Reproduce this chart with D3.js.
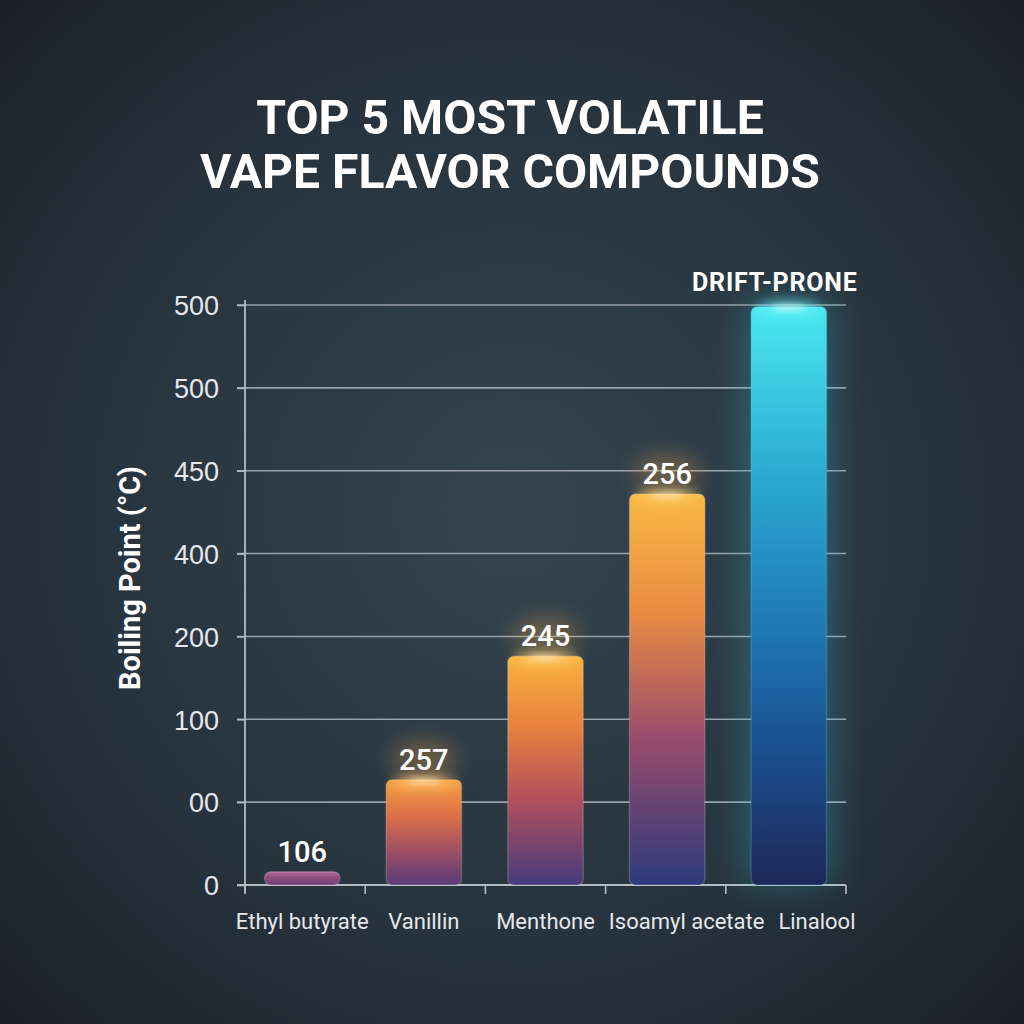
<!DOCTYPE html>
<html><head><meta charset="utf-8">
<script src="https://cdn.jsdelivr.net/npm/d3@7"></script>
<style>html,body{margin:0;padding:0;background:#1f2830;} svg{display:block}</style>
</head><body><svg id="c" width="1024" height="1024"></svg>
<script>
// ---- data ----
const categories = ["Ethyl butyrate","Vanillin","Menthone","Isoamyl acetate","Linalool"];
// bar heights expressed on the chart's (evenly spaced) tick ladder
const values = [0.16, 1.27, 2.76, 4.72, 6.98];
const valueLabels = ["106","257","245","256","DRIFT-PRONE"];
const tickIndex = [0,1,2,3,4,5,6,7];
const tickLabels = ["0","00","100","200","400","450","500","500"];
const titleLines = ["TOP 5 MOST VOLATILE","VAPE FLAVOR COMPOUNDS"];
const yTitle = "Boiling Point (°C)";
const barStops = [
  [["0","#b06a9c"],["0.4","#92507e"],["1","#6e3e78"]],
  [["0","#f4a040"],["0.35","#dc6e48"],["0.7","#9a4c66"],["1","#5a3c78"]],
  [["0","#f8b23e"],["0.3","#ea823e"],["0.62","#b4505c"],["1","#463a7c"]],
  [["0","#f8b844"],["0.3","#ea8c42"],["0.62","#9a4c6c"],["1","#2c3a7c"]],
  [["0","#4ae8f0"],["0.3","#2aa8d2"],["0.55","#1f7ab2"],["0.75","#1a5294"],["1","#1e2858"]]
];
const glowColors = ["#d090c0","#ffc070","#ffd070","#ffd070","#70f4ff"];

// ---- chart ----
const W = 1024, H = 1024;
const svg = d3.select("#c");
const defs = svg.append("defs");

const bg = defs.append("radialGradient").attr("id","bg")
  .attr("cx","0.5").attr("cy","0.5").attr("r","0.72");
bg.append("stop").attr("offset","0").attr("stop-color","#34454f");
bg.append("stop").attr("offset","0.55").attr("stop-color","#28343e");
bg.append("stop").attr("offset","1").attr("stop-color","#1a2028");
svg.append("rect").attr("width",W).attr("height",H).attr("fill","url(#bg)");

const blur = (id, sd) => {
  const f = defs.append("filter").attr("id",id)
    .attr("x","-100%").attr("y","-100%").attr("width","300%").attr("height","300%");
  f.append("feGaussianBlur").attr("stdDeviation",sd);
};
blur("b6",6); blur("b10",10); blur("b18",18); blur("b3",3);

barStops.forEach((stops,i)=>{
  const g = defs.append("linearGradient").attr("id","bar"+i)
    .attr("x1",0).attr("y1",0).attr("x2",0).attr("y2",1);
  stops.forEach(s=>g.append("stop").attr("offset",s[0]).attr("stop-color",s[1]));
});

const x = d3.scaleBand().domain(categories).range([245,846]).paddingInner(0.38).paddingOuter(0.16);
const y = d3.scaleLinear().domain([0,7]).range([885,305]);

// gridlines
svg.append("g").selectAll("line").data(tickIndex.slice(1)).join("line")
  .attr("x1",237).attr("x2",846).attr("y1",d=>y(d)).attr("y2",d=>y(d))
  .attr("stroke","#b4bcc2").attr("stroke-opacity",0.8).attr("stroke-width",1.6);

// y axis
const yAxis = d3.axisLeft(y).tickValues(tickIndex).tickFormat((d,i)=>tickLabels[i]).tickSize(8).tickPadding(18);
const gy = svg.append("g").attr("transform","translate(245,0)").call(yAxis);
gy.select(".domain").attr("stroke","#b4bcc2").attr("stroke-width",1.8).attr("d","M0,300V893");
gy.selectAll(".tick line").attr("stroke","#b4bcc2").attr("stroke-width",1.6);
gy.selectAll(".tick text").attr("fill","#e4e8ec").attr("font-family","Liberation Sans, Arial, sans-serif")
  .attr("font-size",27).attr("dy","0.36em");

// x axis
const xAxis = d3.axisBottom(x).tickSize(0).tickPadding(28);
const gx = svg.append("g").attr("transform","translate(0,885)").call(xAxis);
gx.select(".domain").attr("stroke","#b4bcc2").attr("stroke-width",1.8).attr("d","M237,0H846");
const xt = gx.selectAll(".tick text").attr("fill","#e4e8ec").attr("font-family","Roboto, sans-serif")
  .attr("font-size",22);
// resolve overlaps between neighbouring labels by nudging rightwards
{
  const nodes = xt.nodes();
  let prevRight = -Infinity;
  nodes.forEach(n=>{
    const w = n.getComputedTextLength();
    const cx = x(n.__data__) + x.bandwidth()/2;
    let left = cx - w/2;
    if (left < prevRight + 14) { const shift = prevRight + 14 - left; d3.select(n).attr("x", shift); left += shift; }
    prevRight = left + w;
  });
}
const [r0, r1] = x.range();
const bounds = d3.range(categories.length+1).map(i=>r0 + i*(r1-r0)/categories.length);
gx.append("g").selectAll("line").data(bounds).join("line")
  .attr("x1",d=>d).attr("x2",d=>d).attr("y1",0).attr("y2",9)
  .attr("stroke","#b4bcc2").attr("stroke-width",1.6);

// bars
const data = categories.map((c,i)=>({c, v:values[i], lab:valueLabels[i], i}));
const bw = x.bandwidth();
// big glow for last bar
svg.append("g").selectAll("rect").data(data.filter(d=>d.i===4)).join("rect")
  .attr("x",d=>x(d.c)-6).attr("y",d=>y(d.v)-6).attr("width",bw+12).attr("height",d=>y(0)-y(d.v)+6)
  .attr("fill","#2fc8e0").attr("opacity",0.3).attr("filter","url(#b18)");
svg.append("g").selectAll("rect").data(data).join("rect")
  .attr("x",d=>x(d.c)).attr("y",d=>y(d.v)).attr("width",bw).attr("height",d=>y(0)-y(d.v))
  .attr("rx",6).attr("fill",d=>"url(#bar"+d.i+")")
  .attr("stroke",d=>d.i===4?"#8ff0ff":"#ffffff").attr("stroke-opacity",0.18).attr("stroke-width",1.5);
// top highlights
svg.append("g").selectAll("ellipse").data(data.filter(d=>d.i>0)).join("ellipse")
  .attr("cx",d=>x(d.c)+bw/2).attr("cy",d=>y(d.v)+2).attr("rx",bw*0.42).attr("ry",7)
  .attr("fill",d=>glowColors[d.i]).attr("opacity",0.75).attr("filter","url(#b6)");
svg.append("g").selectAll("ellipse").data(data.filter(d=>d.i>0)).join("ellipse")
  .attr("cx",d=>x(d.c)+bw/2).attr("cy",d=>y(d.v)+1).attr("rx",bw*0.22).attr("ry",2)
  .attr("fill","#fffbe8").attr("opacity",0.8).attr("filter","url(#b3)");

// value label glows
svg.append("g").selectAll("ellipse").data(data.filter(d=>d.i>0 && d.i<4)).join("ellipse")
  .attr("cx",d=>x(d.c)+bw/2).attr("cy",d=>y(d.v)-22).attr("rx",34).attr("ry",18)
  .attr("fill","#ffb050").attr("opacity",0.28).attr("filter","url(#b10)");

// value labels
svg.append("g").selectAll("text").data(data).join("text")
  .attr("x",d=>x(d.c)+bw/2 - (d.i===4?14:0))
  .attr("y",d=>y(d.v) - (d.i===4?16:10))
  .attr("text-anchor","middle")
  .attr("font-family","Roboto, sans-serif")
  .attr("font-weight",d=>d.i===4?"bold":"500")
  .attr("font-size",d=>d.i===4?25:29)
  .attr("letter-spacing",d=>d.i===4?0.8:0)
  .attr("fill","#ffffff").text(d=>d.lab);

// y title
svg.append("text").attr("transform","translate(140,578) rotate(-90)")
  .attr("text-anchor","middle").attr("font-family","Roboto, Liberation Sans, sans-serif")
  .attr("font-weight","bold").attr("font-size",29).attr("fill","#ffffff").text(yTitle);

// title
const tg = svg.append("g");
const t2 = tg.append("text").attr("x",510).attr("y",188).attr("text-anchor","middle")
  .attr("font-family","Roboto, Liberation Sans, sans-serif").attr("font-weight","bold")
  .attr("font-size",46).attr("fill","#ffffff").text(titleLines[1]);
const w2 = t2.node().getComputedTextLength();
const fs = 46 * 620 / w2;
t2.attr("font-size",fs);
tg.append("text").attr("x",510).attr("y",134).attr("text-anchor","middle")
  .attr("font-family","Roboto, Liberation Sans, sans-serif").attr("font-weight","bold")
  .attr("font-size",fs).attr("fill","#ffffff").text(titleLines[0]);
</script></body></html>
